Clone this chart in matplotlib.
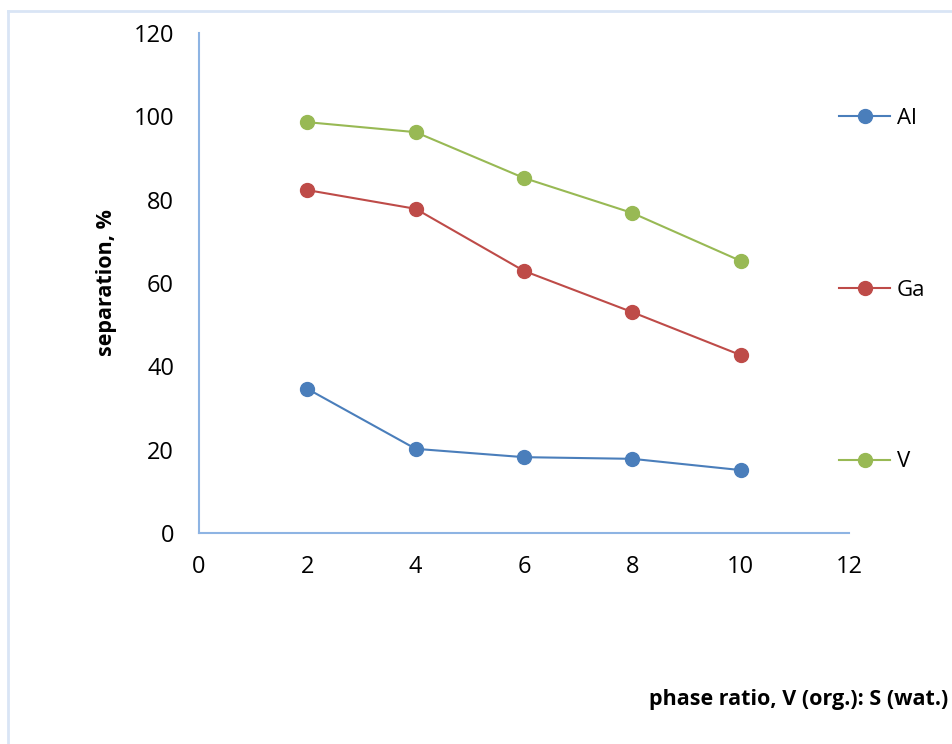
import matplotlib
matplotlib.use("Agg")
import matplotlib.pyplot as plt
from matplotlib.lines import Line2D

phase_ratio = [2, 4, 6, 8, 10]
al = [34.6, 20.2, 18.2, 17.8, 15.1]
ga = [82.3, 77.8, 62.9, 53.0, 42.7]
v = [98.6, 96.2, 85.2, 76.8, 65.3]
series_names = ["Al", "Ga", "V"]
colors = ["#4A7EBB", "#BE4B48", "#98B954"]
x_ticks = [0, 2, 4, 6, 8, 10, 12]
y_ticks = [0, 20, 40, 60, 80, 100, 120]

plt.rcParams['font.family'] = ['Open Sans', 'DejaVu Sans']

fig = plt.figure(figsize=(9.52, 7.44), dpi=100)
ax = fig.add_axes([199/952, 1-533/744, (849-199)/952, (533-33)/744])

for name, vals, c in zip(series_names, [al, ga, v], colors):
    ax.plot(phase_ratio, vals, color=c, lw=1.5, marker='o', markersize=10,
            markerfacecolor=c, markeredgecolor=c, label=name)

ax.set_xlim(0, 12)
ax.set_ylim(0, 120)
ax.set_xticks(x_ticks)
ax.set_yticks(y_ticks)
ax.tick_params(length=0, labelsize=17, colors='black')
ax.tick_params(axis='x', pad=16)
ax.tick_params(axis='y', pad=18)
for s in ['top', 'right']:
    ax.spines[s].set_visible(False)
for s in ['left', 'bottom']:
    ax.spines[s].set_color('#8EB4E3')
    ax.spines[s].set_linewidth(1.5)

ax.set_ylabel("separation, %", fontsize=15.5, fontweight='bold', labelpad=12)
fig.text(948/952, 1-700/744, "phase ratio, V (org.): S (wat.)", fontsize=15.5,
         fontweight='bold', ha='right', va='center')

leg = ax.legend(loc='upper left', bbox_to_anchor=(819/952, 1-88/744),
                bbox_transform=fig.transFigure, frameon=False, fontsize=16,
                labelspacing=6.78, handlelength=2.3, handletextpad=0.3)

# figure border (top & left visible)
fig.add_artist(Line2D([8/952, 1], [1-10.5/744, 1-10.5/744], color='#D9E5F5', lw=2, transform=fig.transFigure))
fig.add_artist(Line2D([8/952, 8/952], [0, 1-10.5/744], color='#D9E5F5', lw=2, transform=fig.transFigure))

fig.savefig("out.png", dpi=100)
